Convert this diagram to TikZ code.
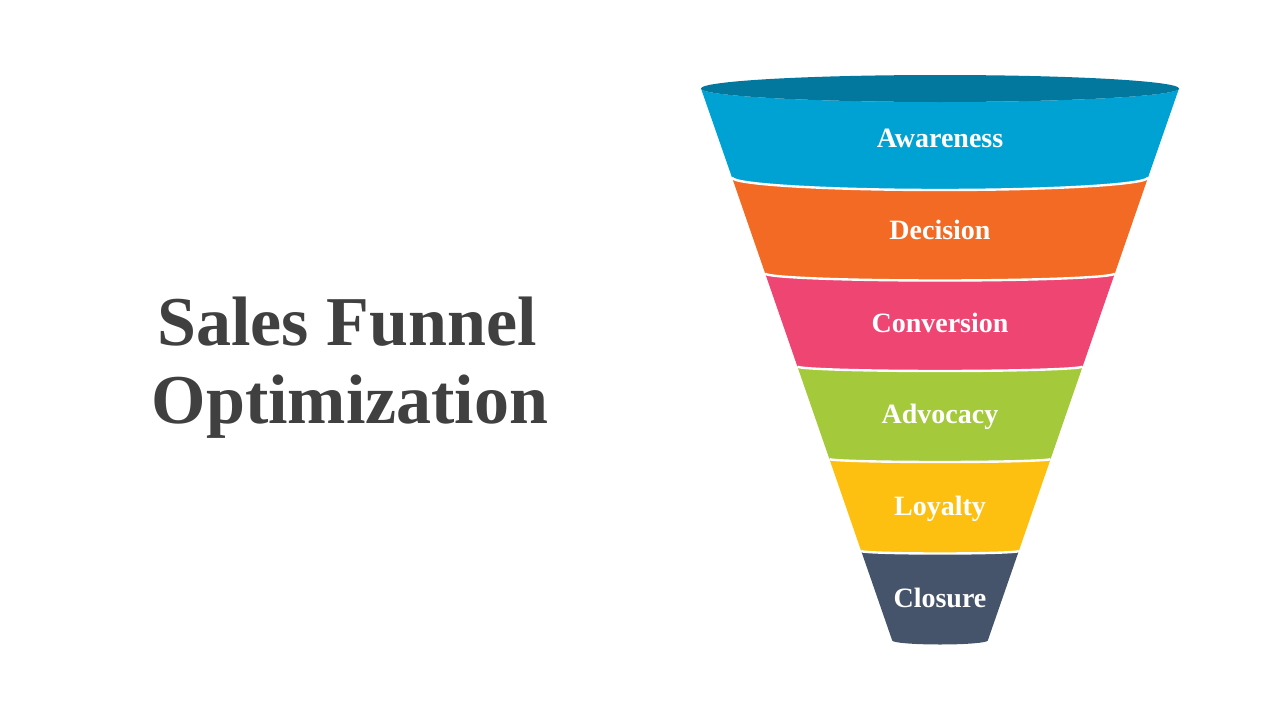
\documentclass[tikz,border=0pt]{standalone}
\usepackage{fontspec}
\setmainfont{Liberation Serif}
\definecolor{rimblue}{HTML}{02789F}
\definecolor{awareblue}{HTML}{00A2D4}
\definecolor{decorange}{HTML}{F26A24}
\definecolor{convpink}{HTML}{EE4572}
\definecolor{advgreen}{HTML}{A4C93A}
\definecolor{loyyellow}{HTML}{FDC011}
\definecolor{closslate}{HTML}{45546B}
\definecolor{titlegrey}{HTML}{404040}
\begin{document}
\begin{tikzpicture}[x=1pt,y=-1pt,
  seam/.style={draw=white,line width=2.4},
  stagelabel/.style={text=white,font=\fontsize{28}{30}\selectfont\bfseries,anchor=base},
  titletext/.style={text=titlegrey,font=\fontsize{70}{76}\selectfont\bfseries,anchor=base},
  every node/.style={inner sep=0pt}]
\useasboundingbox (0,0) rectangle (1280,720);
% title on the left
\node[titletext] (title1) at (347,345) {Sales Funnel};
\node[titletext] (title2) at (350,423) {Optimization};
% Awareness (blue)
\fill[awareblue] (701,88.5) arc[start angle=180,end angle=0,x radius=239,y radius=13.5]
  -- (1148,177.5) arc[start angle=0,end angle=180,x radius=208,y radius=12.5] -- cycle;
% Decision (orange)
\fill[decorange] (732,177.5) arc[start angle=180,end angle=0,x radius=208,y radius=12.5]
  -- (1114.8,273.5) arc[start angle=0,end angle=180,x radius=174.8,y radius=7] -- cycle;
% Conversion (pink)
\fill[convpink] (765.2,273.5) arc[start angle=180,end angle=0,x radius=174.8,y radius=7]
  -- (1082.6,366.5) arc[start angle=0,end angle=180,x radius=142.6,y radius=4.5] -- cycle;
% Advocacy (green)
\fill[advgreen] (797.4,366.5) arc[start angle=180,end angle=0,x radius=142.6,y radius=4.5]
  -- (1050.6,459) arc[start angle=0,end angle=180,x radius=110.6,y radius=3] -- cycle;
% Loyalty (yellow)
\fill[loyyellow] (829.4,459) arc[start angle=180,end angle=0,x radius=110.6,y radius=3]
  -- (1018.8,551) arc[start angle=0,end angle=180,x radius=78.8,y radius=2.5] -- cycle;
% Closure (slate)
\fill[closslate] (861.2,551) arc[start angle=180,end angle=0,x radius=78.8,y radius=2.5]
  -- (987.8,640.5) arc[start angle=0,end angle=180,x radius=47.8,y radius=4] -- cycle;
% white seams between the stages
\draw[seam] (732,177.5) arc[start angle=180,end angle=0,x radius=208,y radius=12.5];
\draw[seam] (765.2,273.5) arc[start angle=180,end angle=0,x radius=174.8,y radius=7];
\draw[seam] (797.4,366.5) arc[start angle=180,end angle=0,x radius=142.6,y radius=4.5];
\draw[seam] (829.4,459) arc[start angle=180,end angle=0,x radius=110.6,y radius=3];
\draw[seam] (861.2,551) arc[start angle=180,end angle=0,x radius=78.8,y radius=2.5];
% funnel rim
\fill[rimblue] (940,88.5) ellipse[x radius=239,y radius=13.5];
% stage labels
\node[stagelabel] (awareness) at (940,147) {Awareness};
\node[stagelabel] (decision) at (940,239) {Decision};
\node[stagelabel] (conversion) at (940,332) {Conversion};
\node[stagelabel] (advocacy) at (940,423) {Advocacy};
\node[stagelabel] (loyalty) at (940,515) {Loyalty};
\node[stagelabel] (closure) at (940,607) {Closure};
\end{tikzpicture}
\end{document}
